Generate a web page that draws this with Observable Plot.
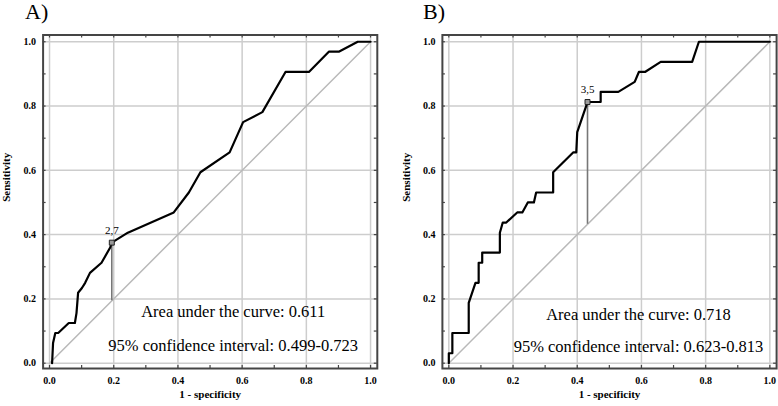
<!DOCTYPE html>
<html><head><meta charset="utf-8">
<script src="https://cdn.jsdelivr.net/npm/d3@7"></script>
<script src="https://cdn.jsdelivr.net/npm/@observablehq/plot@0.6"></script>
<style>
body{margin:0;background:#fff;}
#wrap{position:relative;width:778px;height:406px;overflow:hidden;background:#fff;}
.panel{position:absolute;top:0;width:389px;height:406px;}
.ttl{position:absolute;font-family:'Liberation Serif','Times New Roman',serif;font-size:22px;line-height:22px;top:1px;color:#000;}
.panel svg{position:absolute;top:24px;left:0;}
</style></head><body><div id="wrap"></div>
<script>
// ---- data ----
const panelTitles = ["A)", "B)"];
const xLabel = "1 - specificity";
const yLabel = "Sensitivity";
const majorTicks = [0, 0.2, 0.4, 0.6, 0.8, 1.0];
const minorTicks = [0, 0.1, 0.2, 0.3, 0.4, 0.5, 0.6, 0.7, 0.8, 0.9, 1.0];
const diagonal = [0, 1];

const fprA = [0.008,0.011,0.018,0.027,0.060,0.079,0.084,0.089,0.101,0.111,0.126,0.162,0.189,0.194,0.244,0.387,0.434,0.470,0.561,0.603,0.663,0.735,0.808,0.870,0.901,0.960,1.0];
const tprA = [0,0.0625,0.094,0.094,0.125,0.125,0.156,0.219,0.234,0.25,0.281,0.3125,0.36,0.375,0.406,0.469,0.531,0.594,0.656,0.75,0.781,0.906,0.906,0.969,0.969,1.0,1.0];
const cutA = {fpr: 0.194, tpr: 0.375, label: "2,7"};
const aucA = "Area under the curve: 0.611";
const ciA = "95% confidence interval: 0.499-0.723";

const fprB = [0,0,0.011,0.011,0.062,0.062,0.083,0.093,0.093,0.104,0.104,0.159,0.159,0.168,0.179,0.213,0.229,0.246,0.265,0.272,0.325,0.325,0.388,0.397,0.400,0.432,0.473,0.473,0.528,0.579,0.592,0.611,0.660,0.758,0.779,1.0];
const tprB = [0,0.031,0.031,0.094,0.094,0.1875,0.25,0.25,0.3125,0.3125,0.344,0.344,0.406,0.4375,0.4375,0.469,0.469,0.5,0.5,0.531,0.531,0.594,0.656,0.656,0.719,0.8125,0.8125,0.844,0.844,0.875,0.906,0.906,0.9375,0.9375,1.0,1.0];
const cutB = {fpr: 0.432, tpr: 0.8125, label: "3,5"};
const aucB = "Area under the curve: 0.718";
const ciB = "95% confidence interval: 0.623-0.813";

// ---- drawing ----
const SERIF = "'Liberation Serif','Times New Roman',serif";
const W = 389, H = 382, mT = 10.5, mB = 38;
const fmt = d3.format(".1f");

function makePanel(cfg) {
  const pts = cfg.fpr.map((f, i) => ({fpr: f, tpr: cfg.tpr[i]}));
  const frameW = W - cfg.mL - cfg.mR, frameH = H - mT - mB;
  const div = document.createElement("div");
  div.className = "panel";
  div.style.left = cfg.left + "px";
  const t = document.createElement("div");
  t.className = "ttl"; t.style.left = cfg.titleX + "px"; t.textContent = cfg.title;
  div.appendChild(t);
  const svg = Plot.plot({
    width: W, height: H,
    marginLeft: cfg.mL, marginRight: cfg.mR, marginTop: mT, marginBottom: mB,
    style: {fontFamily: SERIF, fontSize: "10px", fontWeight: "bold", color: "#000", background: "transparent", overflow: "visible"},
    x: {domain: [-0.02, 1.021]},
    y: {domain: [-0.0165, 1.021]},
    marks: [
      Plot.ruleX(majorTicks, {x: d => d, stroke: "#cdcdcd", strokeWidth: 1.5}),
      Plot.ruleY(majorTicks, {y: d => d, stroke: "#cdcdcd", strokeWidth: 1.5}),
      Plot.line(diagonal, {x: d => d, y: d => d, stroke: "#b9b9b9", strokeWidth: 1.5}),
      Plot.ruleX([cfg.cut], {x: "fpr", y1: "fpr", y2: "tpr", stroke: "#777", strokeWidth: 1.6}),
      Plot.line(pts, {x: "fpr", y: "tpr", stroke: "#000", strokeWidth: 2.2, strokeLinejoin: "round"}),
      Plot.dot([cfg.cut], {x: "fpr", y: "tpr", symbol: "square", r: 2.8, stroke: "#222", fill: "#9a9a9a", strokeWidth: 1}),
      Plot.text([cfg.cut], {x: "fpr", y: "tpr", text: "label", dy: -9, lineAnchor: "bottom", fontSize: 11, fontWeight: "normal"}),
      Plot.text([cfg.auc], {text: d => d, frameAnchor: "bottom", dx: cfg.textDx, dy: cfg.aucDy, lineAnchor: "bottom", fontSize: 16.5, fontWeight: "normal"}),
      Plot.text([cfg.ci], {text: d => d, frameAnchor: "bottom", dx: cfg.textDx, dy: cfg.ciDy, lineAnchor: "bottom", fontSize: 16.5, fontWeight: "normal"}),
      Plot.tickX(minorTicks, {x: d => d, insetTop: frameH - 3, stroke: "#444", strokeWidth: 1.2}),
      Plot.tickX(minorTicks, {x: d => d, insetBottom: frameH - 3, stroke: "#444", strokeWidth: 1.2}),
      Plot.tickY(minorTicks, {y: d => d, insetRight: frameW - 3, stroke: "#444", strokeWidth: 1.2}),
      Plot.tickY(minorTicks, {y: d => d, insetLeft: frameW - 3, stroke: "#444", strokeWidth: 1.2}),
      Plot.frame({stroke: "#454545", strokeWidth: 2}),
      Plot.axisX({ticks: majorTicks, tickSize: 0, tickPadding: 8, tickFormat: fmt, label: null}),
      Plot.axisY({ticks: majorTicks, tickSize: 0, tickPadding: 7, tickFormat: fmt, label: null}),
      Plot.text([xLabel], {text: d => d, frameAnchor: "bottom", dy: 29.4, fontSize: 11}),
      Plot.text([yLabel], {text: d => d, frameAnchor: "left", dx: -36.3, rotate: -90, fontSize: 11})
    ]
  });
  div.appendChild(svg);
  document.getElementById("wrap").appendChild(div);
}

makePanel({fpr: fprA, tpr: tprA, cut: cutA, auc: aucA, ci: ciA, title: panelTitles[0],
  left: 0, mL: 42.6, mR: 12.2, titleX: 25, textDx: 23, aucDy: -51.3, ciDy: -18});
makePanel({fpr: fprB, tpr: tprB, cut: cutB, auc: aucB, ci: ciB, title: panelTitles[1],
  left: 389, mL: 52.9, mR: 1.9, titleX: 34, textDx: 29, aucDy: -49, ciDy: -16.3});
</script></body></html>
